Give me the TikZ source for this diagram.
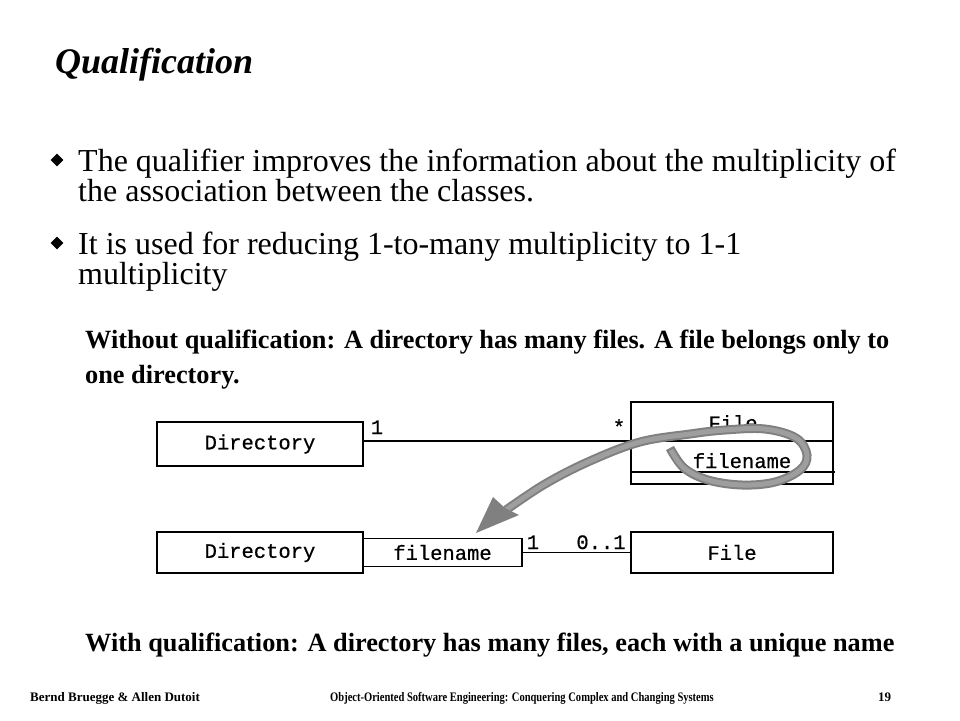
\documentclass[tikz,border=0pt]{standalone}
\usepackage{fontspec}
\setmainfont{Liberation Serif}
\setmonofont[FakeBold=0.6]{Liberation Mono}
\usetikzlibrary{arrows.meta,shapes.geometric}
\tikzset{
  umlbox/.style={draw, line width=1.6pt, inner sep=0pt, font=\ttfamily\fontsize{20.5}{23}\selectfont},
  assoc/.style={line width=1.4pt},
  mult/.style={font=\ttfamily\fontsize{20.5}{23}\selectfont, inner sep=0pt, anchor=base},
  bodytext/.style={anchor=base west, inner sep=0pt, font=\fontsize{32}{36}\selectfont},
  boldtext/.style={anchor=base west, inner sep=0pt, font=\bfseries\fontsize{26.3}{30}\selectfont},
  foot/.style={anchor=base west, inner sep=0pt, font=\bfseries\fontsize{13}{15}\selectfont},
  bulletmark/.style={fill=black, draw=none, minimum size=13pt, inner sep=0pt, diamond},
  qualarrow/.style={line width=9pt, black!50, line cap=butt},
  qualarrowin/.style={line width=5pt, black!38, line cap=butt},
}
\begin{document}
\begin{tikzpicture}[x=1pt,y=-1pt]
\useasboundingbox (0,0) rectangle (960,720);
% title
\node[anchor=base west, inner sep=0pt, font=\bfseries\itshape\fontsize{36}{40}\selectfont] (title) at (55,73) {Qualification};
% bullets
\node[bulletmark] (b1) at (57,160) {};
\node[bodytext] (t1) at (78,171) {The qualifier improves the information about the multiplicity of};
\node[bodytext] (t2) at (78,201) {the association between the classes.};
\node[bulletmark] (b2) at (57,243) {};
\node[bodytext] (t3) at (78,254) {It is used for reducing 1-to-many multiplicity to 1-1};
\node[bodytext] (t4) at (78,284) {multiplicity};
% bold texts
\node[boldtext] (w1) at (85,348) {Without qualification: A directory has many files. A file belongs only to};
\node[boldtext] (w2) at (85,383) {one directory.};
\node[boldtext] (w3) at (85,651) {With qualification: A directory has many files, each with a unique name};
% top diagram
\node[umlbox, minimum width=206pt, minimum height=44pt] (dir1) at (260,444) {Directory};
\node[umlbox, minimum width=202pt, minimum height=82pt] (file1) at (732,443) {};
\node[mult] (filet) at (733,430) {File};
\node[mult] (fattr) at (742,468) {filename};
\coordinate (c1) at (dir1.east |- 0,441);
\coordinate (c2) at (file1.west |- 0,441);
\coordinate (c3) at (file1.east |- 0,441);
\draw[assoc] (c1) -- (c2) -- (c3);
\coordinate (d1) at (file1.west |- 0,472);
\coordinate (d2) at (835,472);
\draw[assoc] (d1) -- (d2);
\node[mult] (m1) at (377,434) {1};
\node[mult] (m2) at (619,434) {*};
% bottom diagram
\node[umlbox, minimum width=206pt, minimum height=41pt] (dir2) at (260,552.5) {Directory};
\node[umlbox, minimum width=159pt, minimum height=28pt] (qual) at (442.5,552.5) {filename};
\node[umlbox, minimum width=202pt, minimum height=41pt] (file2) at (732,552.5) {File};
\draw[assoc] (qual.east) -- (file2.west);
\node[mult] (m3) at (533,549) {1};
\node[mult] (m4) at (601,549) {0..1};
% gray arrow
\draw[qualarrow] plot[smooth, tension=0.6] coordinates {(670,448) (684,468) (708,480) (742,485) (775,482) (800,470) (807,455) (796,438) (765,429) (725,430) (690,434) (640,442) (590,461) (545,484) (506,510)};
\draw[qualarrowin] plot[smooth, tension=0.6] coordinates {(671,450) (684,468) (708,480) (742,485) (775,482) (800,470) (807,455) (796,438) (765,429) (725,430) (690,434) (640,442) (590,461) (545,484) (506,510)};
\coordinate (tip) at (476,533);
\fill[black!50] (tip) -- (493,497) -- (505,508) -- (519,515) -- cycle;
% footer
\node[foot] (f1) at (30,701) {Bernd Bruegge \& Allen Dutoit};
\node[foot] (f2) at (330,701) {\scalebox{0.81}[1]{Object-Oriented Software Engineering: Conquering Complex and Changing Systems}};
\node[foot] (f3) at (878,701) {19};
\end{tikzpicture}
\end{document}
